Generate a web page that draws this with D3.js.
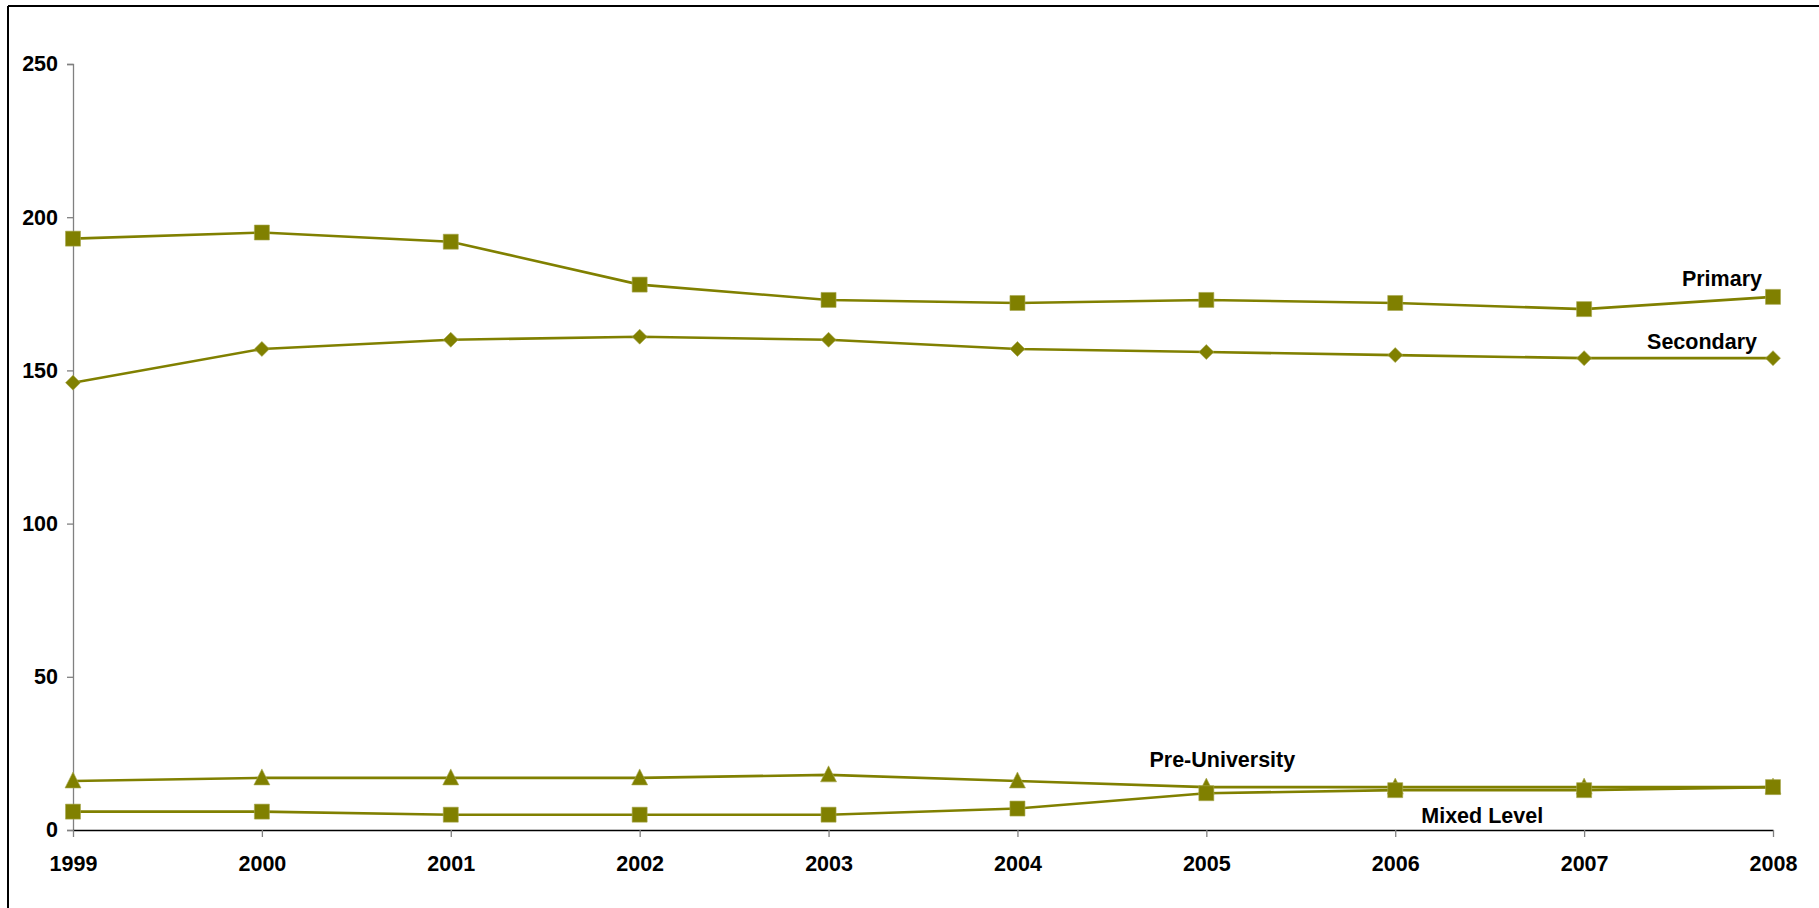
<!DOCTYPE html>
<html>
<head>
<meta charset="utf-8">
<script src="https://cdnjs.cloudflare.com/ajax/libs/d3/7.8.5/d3.min.js"></script>
<style>
  html, body { margin: 0; padding: 0; background: #fff; }
  svg { display: block; }
  text { font-family: "Liberation Sans", Arial, sans-serif; font-weight: bold; fill: #000; }
</style>
</head>
<body>
<svg id="chart" width="1819" height="908"></svg>
<script>
const years = [1999, 2000, 2001, 2002, 2003, 2004, 2005, 2006, 2007, 2008];
const yTicks = [0, 50, 100, 150, 200, 250];
const primary = [193, 195, 192, 178, 173, 172, 173, 172, 170, 174];
const secondary = [146, 157, 160, 161, 160, 157, 156, 155, 154, 154];
const preUniversity = [16, 17, 17, 17, 18, 16, 14, 14, 14, 14];
const mixedLevel = [6, 6, 5, 5, 5, 7, 12, 13, 13, 14];

const seriesNames = ["Primary", "Secondary", "Pre-University", "Mixed Level"];
const seriesValues = [primary, secondary, preUniversity, mixedLevel];
const seriesSymbols = ["square", "diamond", "triangle", "square"];
const color = "#808000";

const svg = d3.select("#chart");

// outer frame (only top and left edges visible)
svg.append("line").attr("x1", 8).attr("x2", 1819).attr("y1", 6).attr("y2", 6)
  .attr("stroke", "#000").attr("stroke-width", 2);
svg.append("line").attr("x1", 8).attr("x2", 8).attr("y1", 6).attr("y2", 908)
  .attr("stroke", "#000").attr("stroke-width", 2);

const x = d3.scalePoint().domain(years).range([73, 1773]);
const y = d3.scaleLinear().domain([0, 250]).range([830, 64]);

// Y axis
const yAxis = svg.append("g").attr("transform", "translate(73,0)")
  .call(d3.axisLeft(y).tickValues(yTicks).tickSize(6).tickPadding(9).tickFormat(d3.format("d")));
yAxis.select(".domain").attr("stroke", "#808080").attr("stroke-width", 1.3);
yAxis.selectAll(".tick line").attr("stroke", "#808080").attr("stroke-width", 1.3);
yAxis.selectAll(".tick text").attr("font-size", 21.5).attr("font-family", "'Liberation Sans', Arial, sans-serif")
  .attr("font-weight", "bold").attr("fill", "#000");

// X axis
const xAxis = svg.append("g").attr("transform", "translate(0,830)")
  .call(d3.axisBottom(x).tickSize(7).tickPadding(19).tickSizeOuter(0));
xAxis.select(".domain").attr("stroke", "#000").attr("stroke-width", 1.5);
xAxis.selectAll(".tick line").attr("stroke", "#808080").attr("stroke-width", 1.3);
xAxis.selectAll(".tick text").attr("font-size", 21.5).attr("font-family", "'Liberation Sans', Arial, sans-serif")
  .attr("font-weight", "bold").attr("fill", "#000");

// marker shapes
function markerPath(kind) {
  if (kind === "square") return "M-7.5,-7.5H7.5V7.5H-7.5Z";
  if (kind === "diamond") return "M0,-7.5L7.5,0L0,7.5L-7.5,0Z";
  return "M0,-9L8,7H-8Z";
}

// Lines and markers
const line = d3.line().x((d, i) => x(years[i])).y(d => y(d));
seriesValues.forEach((vals) => {
  svg.append("path").datum(vals).attr("d", line)
    .attr("fill", "none").attr("stroke", color).attr("stroke-width", 2.6);
});
seriesValues.forEach((vals, si) => {
  svg.append("g").selectAll("path").data(vals).join("path")
    .attr("d", markerPath(seriesSymbols[si]))
    .attr("transform", (d, i) => `translate(${x(years[i])},${y(d)})`)
    .attr("fill", color).attr("stroke", "#a8a850").attr("stroke-width", 0.6);
});

// Series labels
const labels = [
  { text: seriesNames[0], xv: x(2008) - 11, yv: y(primary[9]) - 11, anchor: "end" },
  { text: seriesNames[1], xv: x(2008) - 16, yv: y(secondary[9]) - 9, anchor: "end" },
  { text: seriesNames[2], xv: x(2005) + 16, yv: y(preUniversity[6]) - 20, anchor: "middle" },
  { text: seriesNames[3], xv: x(2006) + 87, yv: y(mixedLevel[7]) + 33, anchor: "middle" }
];
svg.append("g").selectAll("text").data(labels).join("text")
  .attr("x", d => d.xv).attr("y", d => d.yv)
  .attr("text-anchor", d => d.anchor)
  .attr("font-size", 21.5)
  .text(d => d.text);
</script>
</body>
</html>
